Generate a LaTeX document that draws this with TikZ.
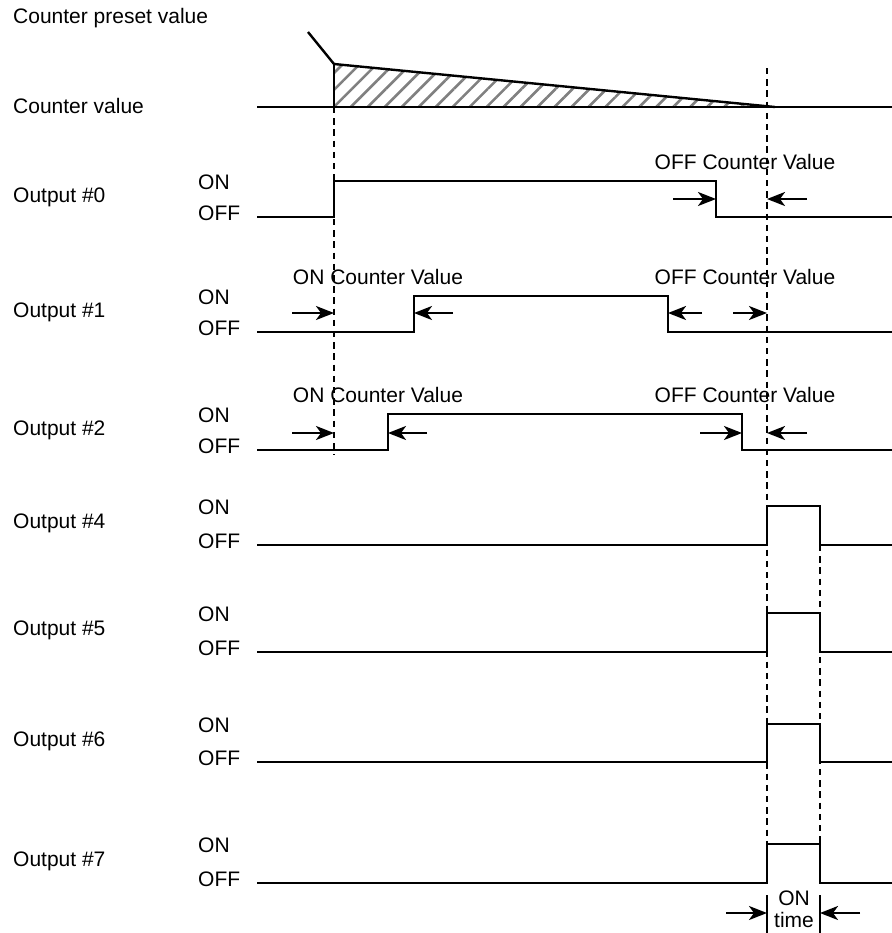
\documentclass[tikz,border=0pt]{standalone}
\usepackage{fontspec}
\setmainfont{Liberation Sans}
\usetikzlibrary{arrows.meta,patterns.meta}

\begin{document}
\begin{tikzpicture}[x=0.5pt,y=-0.5pt,line width=1.2pt,
    every node/.style={font=\fontsize{10.5}{11.5}\selectfont,inner sep=0pt},
    guide/.style={line width=1.2pt,dash pattern=on 3.2pt off 2.4pt},
    dimarrow/.style={-{Stealth[length=9pt,width=7pt,inset=2.5pt]}}]
        % Canvas
        \useasboundingbox (0,0) rectangle (892,933);

        % Row labels
        \node[anchor=west] (preset) at (12,18) {Counter preset value};
        \node[anchor=west] (cnt) at (12,106) {Counter value};
        \foreach \name/\yy/\hi/\lo in {0/197/181/217, 1/312/296/332, 2/430/414/450,
                4/523/506/545, 5/630/613/652, 6/741/724/762, 7/861/844/883} {
            \node[anchor=west] (out\name) at (12,\yy) {Output \#\name};
            \node[anchor=west] (on\name) at (197,\hi+1) {ON};
            \node[anchor=west] (off\name) at (197,\lo-4) {OFF};
        }

        % Counter value: hatched decrease
        \fill[pattern={Lines[angle=45,distance=6pt,line width=1.3pt]},pattern color=gray]
            (334,64) -- (334,107) -- (775,107) -- cycle;
        \draw (308,32) -- (334,64) -- (775,107);
        \draw (334,64) -- (334,107);
        \draw (257,107) -- (892,107);

        % Guide lines
        \draw[guide] (334,107) -- (334,455);
        \draw[guide] (767,68) -- (767,883);
        \draw[guide] (820,545) -- (820,844);

        % Output #0
        \draw (257,217) -- (334,217) -- (334,181) -- (716,181) -- (716,217) -- (892,217);
        % Output #1
        \draw (257,332) -- (414,332) -- (414,296) -- (668,296) -- (668,332) -- (892,332);
        % Output #2
        \draw (257,450) -- (388,450) -- (388,414) -- (742,414) -- (742,450) -- (892,450);
        % Outputs #4 to #7
        \foreach \hi/\lo in {506/545, 613/652, 724/762, 844/883}
            \draw (257,\lo) -- (767,\lo) -- (767,\hi) -- (820,\hi) -- (820,\lo) -- (892,\lo);

        % Counter value marks
        \node (offcv0) at (745,162) {OFF Counter Value};
        \node (oncv1) at (378,277) {ON Counter Value};
        \node (offcv1) at (745,277) {OFF Counter Value};
        \node (oncv2) at (378,395) {ON Counter Value};
        \node (offcv2) at (745,395) {OFF Counter Value};

        \draw[dimarrow] (673,199) -- (716,199);
        \draw[dimarrow] (807,199) -- (767,199);
        \draw[dimarrow] (292,313) -- (334,313);
        \draw[dimarrow] (453,313) -- (414,313);
        \draw[dimarrow] (702,313) -- (668,313);
        \draw[dimarrow] (733,313) -- (767,313);
        \draw[dimarrow] (292,433) -- (334,433);
        \draw[dimarrow] (427,433) -- (388,433);
        \draw[dimarrow] (700,433) -- (742,433);
        \draw[dimarrow] (807,433) -- (767,433);

        % ON time
        \draw (767,895) -- (767,933);
        \draw (820,895) -- (820,933);
        \draw[dimarrow] (726,913) -- (767,913);
        \draw[dimarrow] (860,913) -- (820,913);
        \node[align=center,font=\fontsize{10.5}{11}\selectfont] (ontime) at (794,909) {ON\\time};
    \end{tikzpicture}
\end{document}
